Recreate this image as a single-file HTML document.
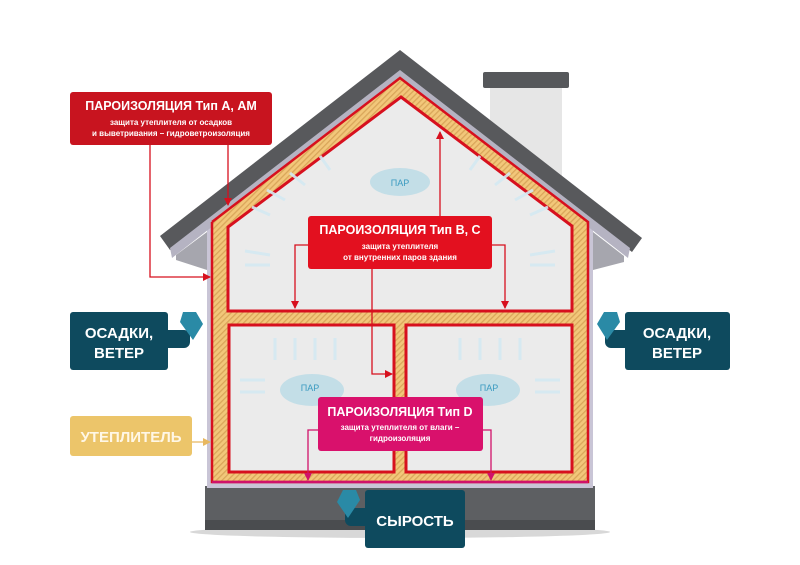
<!DOCTYPE html>
<html><head><meta charset="utf-8"><style>
html,body{margin:0;padding:0;background:#fff;}
svg{display:block;font-family:"Liberation Sans",sans-serif;}
</style></head><body>
<svg width="800" height="565" viewBox="0 0 800 565" xmlns="http://www.w3.org/2000/svg">
<defs>
<pattern id="hatch" width="4" height="4" patternUnits="userSpaceOnUse" patternTransform="rotate(45)">
<rect width="4" height="4" fill="#f2c77a"/><rect width="1.3" height="4" fill="#d9a65a"/>
</pattern>
<marker id="ar" markerWidth="8" markerHeight="8" refX="7" refY="4" orient="auto" markerUnits="userSpaceOnUse"><path d="M0,0 L8,4 L0,8z" fill="#d7101e"/></marker>
<marker id="am" markerWidth="8" markerHeight="8" refX="7" refY="4" orient="auto" markerUnits="userSpaceOnUse"><path d="M0,0 L8,4 L0,8z" fill="#d0126a"/></marker>
<marker id="ay" markerWidth="8" markerHeight="8" refX="7" refY="4" orient="auto" markerUnits="userSpaceOnUse"><path d="M0,0 L8,4 L0,8z" fill="#e8b860"/></marker>
</defs>
<!-- chimney -->
<rect x="490" y="85" width="72" height="100" fill="#e6e6e6"/>
<rect x="483" y="72" width="86" height="16" rx="2" fill="#56585b"/>
<!-- foundation -->
<ellipse cx="400" cy="532" rx="210" ry="6" fill="#d8d8d8"/>
<rect x="205" y="486" width="390" height="44" fill="#5d5f62"/>
<rect x="205" y="520" width="390" height="10" fill="#4a4c4f"/>
<!-- wall outer -->
<rect x="207" y="220" width="386" height="268" fill="#c9c5d6"/>
<!-- roof -->
<polygon points="400,50 642,238 632,252 400,72 170,250 160,236" fill="#58595c"/>
<polygon points="400,70 630,248 628,258 400,80 172,258 170,248" fill="#b5b3c2"/>
<polygon points="176,255 207,232 207,270 176,260" fill="#a6a6ae"/>
<polygon points="593,232 624,256 624,262 593,270" fill="#a6a6ae"/>
<!-- insulation -->
<polygon points="400,78 588,222 588,482 212,482 212,222" fill="url(#hatch)"/>
<polyline points="212,222 400,78 588,222 588,482 212,482 212,222" fill="none" stroke="#d7101e" stroke-width="2.5"/>
<!-- attic -->
<polygon points="401,97 572,226 572,311 228,311 228,227" fill="#ebebeb" stroke="#d7101e" stroke-width="3"/>
<!-- rooms -->
<rect x="229" y="325" width="165" height="147" fill="#ebebeb" stroke="#d7101e" stroke-width="3"/>
<rect x="406" y="325" width="166" height="147" fill="#ebebeb" stroke="#d7101e" stroke-width="3"/>
<line x1="212" y1="482" x2="588" y2="482" stroke="#d0126a" stroke-width="2.5"/>
<!-- clouds -->
<g fill="#b9dbe6" opacity="0.8">
<ellipse cx="400" cy="182" rx="30" ry="14"/><ellipse cx="312" cy="390" rx="32" ry="16"/><ellipse cx="488" cy="390" rx="32" ry="16"/>
</g>
<g font-size="9" fill="#3a9ac0" text-anchor="middle">
<text x="400" y="186">ПАР</text><text x="310" y="391">ПАР</text><text x="489" y="391">ПАР</text>
</g>
<!-- vapour arrows -->
<g stroke="#d4e9f2" stroke-width="3" fill="none" opacity="0.9">
<path d="M270,215 l-18,-8 M285,200 l-18,-10 M305,185 l-15,-12 M330,170 l-10,-14 M470,170 l10,-14 M495,185 l15,-12 M515,200 l18,-10 M530,215 l18,-8"/>
<path d="M270,255 l-25,-4 M270,265 l-25,0 M530,255 l25,-4 M530,265 l25,0"/>
<path d="M275,360 l0,-22 M295,360 l0,-22 M315,360 l0,-22 M335,360 l0,-22 M460,360 l0,-22 M480,360 l0,-22 M500,360 l0,-22 M520,360 l0,-22"/>
<path d="M265,380 l-25,0 M265,392 l-25,0 M535,380 l25,0 M535,392 l25,0"/>
</g>
<!-- connectors -->
<g stroke="#d7101e" stroke-width="1.3" fill="none">
<polyline points="150,145 150,277 210,277" marker-end="url(#ar)"/>
<polyline points="228,145 228,205" marker-end="url(#ar)"/>
<polyline points="308,245 295,245 295,308" marker-end="url(#ar)"/>
<polyline points="492,245 505,245 505,308" marker-end="url(#ar)"/>
<polyline points="440,216 440,132" marker-end="url(#ar)"/>
<polyline points="372,269 372,374 392,374" marker-end="url(#ar)"/>
</g>
<g stroke="#d0126a" stroke-width="1.3" fill="none">
<polyline points="318,430 308,430 308,480" marker-end="url(#am)"/>
<polyline points="482,430 491,430 491,480" marker-end="url(#am)"/>
</g>
<line x1="192" y1="442" x2="210" y2="442" stroke="#e8b860" stroke-width="1.3" marker-end="url(#ay)"/>
<!-- box A -->
<rect x="70" y="92" width="202" height="53" rx="3" fill="#c8141f"/>
<g fill="#fff" text-anchor="middle" font-weight="bold">
<text x="171" y="110" font-size="12.5">ПАРОИЗОЛЯЦИЯ Тип А, АМ</text>
<text x="171" y="125" font-size="8">защита утеплителя от осадков</text>
<text x="171" y="136" font-size="8">и выветривания – гидроветроизоляция</text>
</g>
<!-- box B -->
<rect x="308" y="216" width="184" height="53" rx="3" fill="#e3101f"/>
<g fill="#fff" text-anchor="middle" font-weight="bold">
<text x="400" y="234" font-size="12.5">ПАРОИЗОЛЯЦИЯ Тип В, С</text>
<text x="400" y="249" font-size="8">защита утеплителя</text>
<text x="400" y="260" font-size="8">от внутренних паров здания</text>
</g>
<!-- box D -->
<rect x="318" y="397" width="165" height="54" rx="3" fill="#d9116c"/>
<g fill="#fff" text-anchor="middle" font-weight="bold">
<text x="400" y="416" font-size="12.5">ПАРОИЗОЛЯЦИЯ Тип D</text>
<text x="400" y="430" font-size="8">защита утеплителя от влаги –</text>
<text x="400" y="441" font-size="8">гидроизоляция</text>
</g>
<!-- side boxes -->
<g fill="#0e4a5e">
<rect x="70" y="312" width="98" height="58" rx="3"/><rect x="160" y="330" width="30" height="18" rx="6"/>
<polygon points="183,312 196,312 203,324 193,340 180,322" fill="#2a8aa6"/>
<rect x="625" y="312" width="105" height="58" rx="3"/><rect x="605" y="330" width="30" height="18" rx="6"/>
<polygon points="604,312 617,312 620,322 607,340 597,324" fill="#2a8aa6"/>
<rect x="365" y="490" width="100" height="58" rx="3"/><rect x="345" y="508" width="30" height="18" rx="6"/>
<polygon points="343,490 356,490 360,500 348,518 337,502" fill="#2a8aa6"/>
</g>
<g fill="#fff" text-anchor="middle" font-weight="bold" font-size="15">
<text x="119" y="338">ОСАДКИ,</text><text x="119" y="358">ВЕТЕР</text>
<text x="677" y="338">ОСАДКИ,</text><text x="677" y="358">ВЕТЕР</text>
<text x="415" y="526">СЫРОСТЬ</text>
</g>
<rect x="70" y="416" width="122" height="40" rx="3" fill="#ecc56a"/>
<text x="131" y="442" fill="#fff7e6" text-anchor="middle" font-weight="bold" font-size="15">УТЕПЛИТЕЛЬ</text>
</svg>
</body></html>
